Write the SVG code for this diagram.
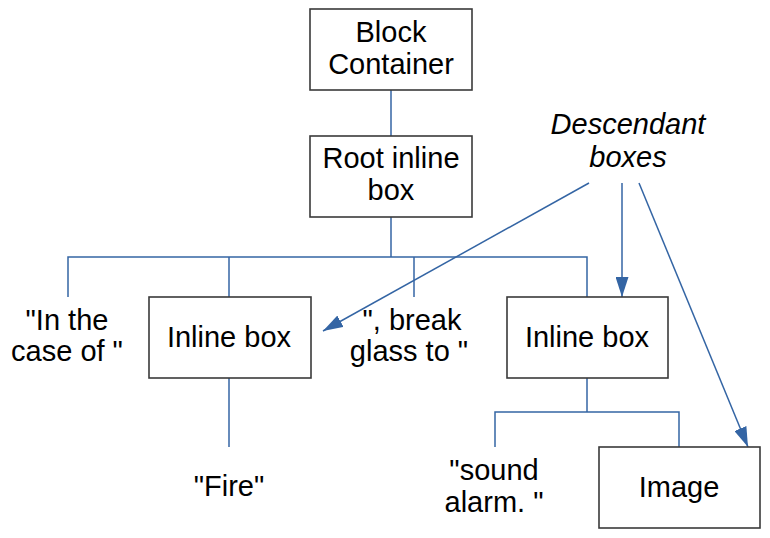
<svg xmlns="http://www.w3.org/2000/svg" width="770" height="538" viewBox="0 0 770 538">
<style>
.box{fill:#fff;stroke:#3a3a3a;stroke-width:1.6}
text{font-family:"Liberation Sans",Arial,sans-serif;font-size:29px;fill:#000;text-anchor:middle}
.it{font-style:italic}
.ln{fill:none;stroke:#3465a4;stroke-width:1.5}
</style>
<defs>
<marker id="ah" viewBox="0 0 20 13" refX="20" refY="6.5" markerWidth="20" markerHeight="13" markerUnits="userSpaceOnUse" orient="auto">
<path d="M0,0 L20,6.5 L0,13 Z" fill="#3465a4"/>
</marker>
</defs>
<rect width="770" height="538" fill="#fff"/>
<g id="connectors">
<path class="ln" d="M391,90 V136"/>
<path class="ln" d="M391,217 V257"/>
<path class="ln" d="M68,297 V257 H587 V297"/>
<path class="ln" d="M229,257 V297"/>
<path class="ln" d="M414,257 V297"/>
<path class="ln" d="M229,378 V447"/>
<path class="ln" d="M587,378 V412"/>
<path class="ln" d="M495,447 V412 H679 V447"/>
<path class="ln" d="M589,183 L323,331" marker-end="url(#ah)"/>
<path class="ln" d="M622,183 L622,297" marker-end="url(#ah)"/>
<path class="ln" d="M639,183 L748,447" marker-end="url(#ah)"/>
</g>
<g id="block-container">
<rect class="box" x="310" y="9" width="162" height="81"/>
<text x="391" y="42">Block</text>
<text x="391" y="74">Container</text>
</g>
<g id="root-inline-box">
<rect class="box" x="310" y="136" width="162" height="81"/>
<text x="391" y="168">Root inline</text>
<text x="391" y="200">box</text>
</g>
<g id="text-in-the-case">
<text x="67" y="330">"In the</text>
<text x="67" y="361">case of "</text>
</g>
<g id="inline-box-1">
<rect class="box" x="149" y="297" width="162" height="81"/>
<text x="229" y="347">Inline box</text>
</g>
<g id="text-break-glass">
<text x="412" y="330">", break</text>
<text x="409" y="361">glass to "</text>
</g>
<g id="inline-box-2">
<rect class="box" x="507" y="297" width="161" height="81"/>
<text x="587" y="347">Inline box</text>
</g>
<g id="text-fire">
<text x="229" y="496">"Fire"</text>
</g>
<g id="text-sound-alarm">
<text x="494" y="480">"sound</text>
<text x="494" y="512">alarm. "</text>
</g>
<g id="image">
<rect class="box" x="599" y="447" width="161" height="81"/>
<text x="679" y="497">Image</text>
</g>
<g id="descendant-boxes">
<text class="it" x="628" y="134">Descendant</text>
<text class="it" x="628" y="167">boxes</text>
</g>
</svg>
